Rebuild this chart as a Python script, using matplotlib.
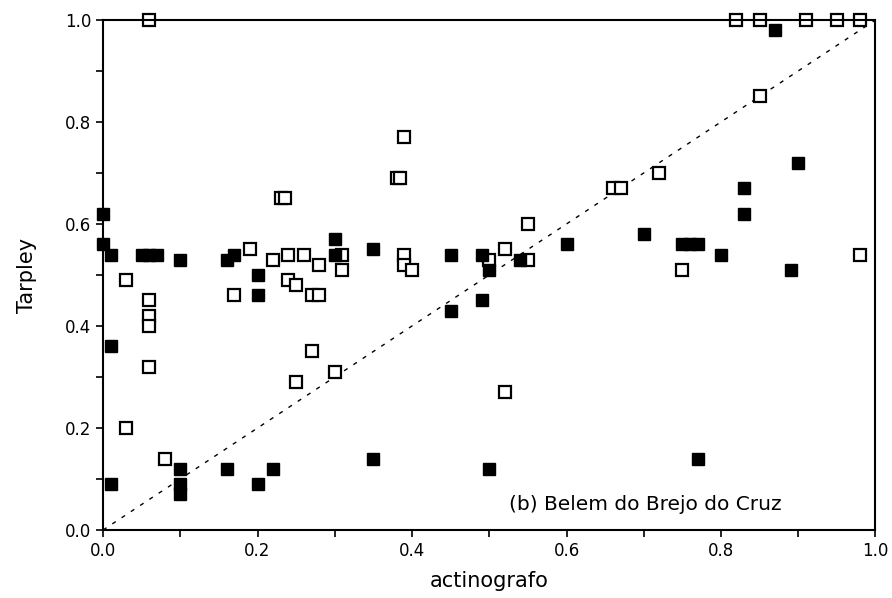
import matplotlib.pyplot as plt
from matplotlib.ticker import MultipleLocator

plt.rcParams['font.family'] = ['DejaVu Sans']

# Open squares
open_x = [0.06, 0.03, 0.19, 0.22, 0.24, 0.26, 0.23, 0.235, 0.28, 0.31, 0.31, 0.24, 0.25,
          0.17, 0.27, 0.28, 0.06, 0.06, 0.06, 0.06, 0.27, 0.30, 0.25, 0.03, 0.08,
          0.39, 0.38, 0.385, 0.39, 0.39, 0.40, 0.52, 0.50, 0.55, 0.55, 0.66, 0.67, 0.72,
          0.52, 0.82, 0.85, 0.91, 0.95, 0.98, 0.85, 0.75, 0.98]
open_y = [1.00, 0.49, 0.55, 0.53, 0.54, 0.54, 0.65, 0.65, 0.52, 0.54, 0.51, 0.49, 0.48,
          0.46, 0.46, 0.46, 0.45, 0.42, 0.40, 0.32, 0.35, 0.31, 0.29, 0.20, 0.14,
          0.77, 0.69, 0.69, 0.54, 0.52, 0.51, 0.55, 0.53, 0.53, 0.60, 0.67, 0.67, 0.70,
          0.27, 1.00, 1.00, 1.00, 1.00, 1.00, 0.85, 0.51, 0.54]

# Filled squares
fill_x = [0.00, 0.00, 0.01, 0.05, 0.06, 0.07, 0.10, 0.16, 0.17, 0.20, 0.30, 0.30, 0.35,
          0.20, 0.01, 0.10, 0.10, 0.10, 0.01, 0.16, 0.22, 0.20, 0.35,
          0.45, 0.49, 0.50, 0.54, 0.60, 0.70, 0.45, 0.49, 0.50,
          0.87, 0.90, 0.83, 0.83, 0.75, 0.76, 0.77, 0.80, 0.89, 0.77]
fill_y = [0.62, 0.56, 0.54, 0.54, 0.54, 0.54, 0.53, 0.53, 0.54, 0.50, 0.57, 0.54, 0.55,
          0.46, 0.36, 0.12, 0.09, 0.07, 0.09, 0.12, 0.12, 0.09, 0.14,
          0.54, 0.54, 0.51, 0.53, 0.56, 0.58, 0.43, 0.45, 0.12,
          0.98, 0.72, 0.67, 0.62, 0.56, 0.56, 0.56, 0.54, 0.51, 0.14]

fig = plt.figure(figsize=(8.92, 5.98), dpi=100)
ax = fig.add_axes([0.1155, 0.1137, 0.866, 0.853])

ax.plot([0, 1], [0, 1], color='black', linestyle=(0, (3, 5)), linewidth=1.0)
ax.plot(open_x, open_y, linestyle='none', marker='s', markersize=8.5,
        markerfacecolor='white', markeredgecolor='black', markeredgewidth=1.6, clip_on=False)
ax.plot(fill_x, fill_y, linestyle='none', marker='s', markersize=9,
        markerfacecolor='black', markeredgecolor='black', clip_on=False)

ax.set_xlim(0, 1)
ax.set_ylim(0, 1)
ax.xaxis.set_major_locator(MultipleLocator(0.2))
ax.xaxis.set_minor_locator(MultipleLocator(0.1))
ax.yaxis.set_major_locator(MultipleLocator(0.2))
ax.yaxis.set_minor_locator(MultipleLocator(0.1))
ax.xaxis.set_major_formatter(plt.FormatStrFormatter('%.1f'))
ax.yaxis.set_major_formatter(plt.FormatStrFormatter('%.1f'))
ax.tick_params(which='both', direction='out', length=5, width=1.2, labelsize=12)
ax.tick_params(top=False, right=False)
for s in ax.spines.values():
    s.set_linewidth(1.5)

ax.set_xlabel('actinografo', fontsize=15, labelpad=8)
ax.set_ylabel('Tarpley', fontsize=15, labelpad=20)
ax.text(0.525, 0.04, '(b) Belem do Brejo do Cruz', fontsize=14.5, transform=ax.transData)

fig.savefig('out.png', dpi=100)
